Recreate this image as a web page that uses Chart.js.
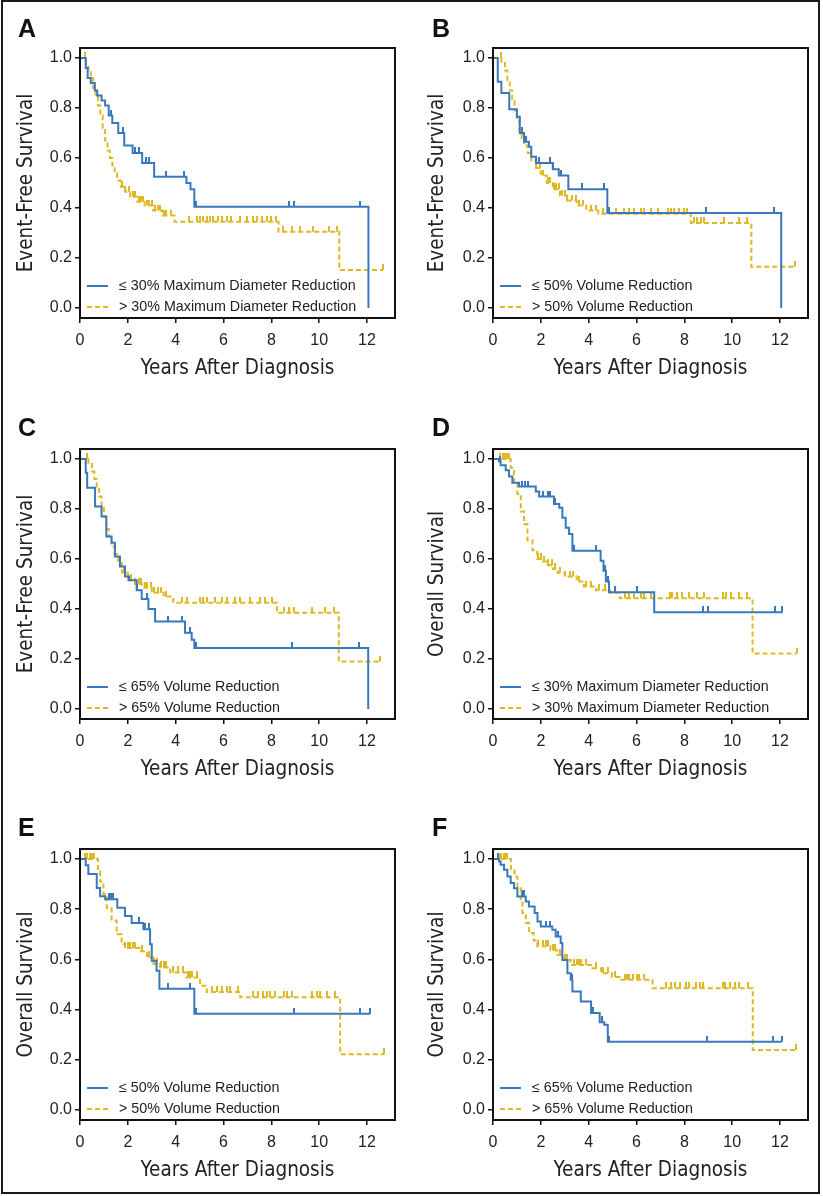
<!DOCTYPE html>
<html lang="en">
<head>
<meta charset="utf-8">
<title>survival by tumor response</title>
<style>
  body { margin: 0; background: #fff; }
  #fig { position: relative; width: 823px; height: 1196px; }
  #frame { position: absolute; left: 1px; top: 0px; width: 815px; height: 1190px; border: 2px solid #1a1a1a; }
  canvas { position: absolute; }
</style>
</head>
<body>
<div id="fig">
  <div id="frame"></div>
  <canvas id="pA" width="411" height="400" style="left:0px;top:0px"></canvas>
  <canvas id="pB" width="411" height="400" style="left:411px;top:0px"></canvas>
  <canvas id="pC" width="411" height="400" style="left:0px;top:400px"></canvas>
  <canvas id="pD" width="411" height="400" style="left:411px;top:400px"></canvas>
  <canvas id="pE" width="411" height="396" style="left:0px;top:800px"></canvas>
  <canvas id="pF" width="411" height="396" style="left:411px;top:800px"></canvas>
</div>

<script src="https://cdn.jsdelivr.net/npm/chart.js"></script>
<script>
  // ---- axes / labels ----
  const yearTicks = [0, 2, 4, 6, 8, 10, 12];
  const survTicks = [0, 0.2, 0.4, 0.6, 0.8, 1.0];
  const letters = ['A', 'B', 'C', 'D', 'E', 'F'];
  const yTitles = ['Event-Free Survival', 'Event-Free Survival', 'Event-Free Survival',
                   'Overall Survival', 'Overall Survival', 'Overall Survival'];
  const lowLabels = ['≤ 30% Maximum Diameter Reduction', '≤ 50% Volume Reduction', '≤ 65% Volume Reduction',
                     '≤ 30% Maximum Diameter Reduction', '≤ 50% Volume Reduction', '≤ 65% Volume Reduction'];
  const highLabels = ['> 30% Maximum Diameter Reduction', '> 50% Volume Reduction', '> 65% Volume Reduction',
                      '> 30% Maximum Diameter Reduction', '> 50% Volume Reduction', '> 65% Volume Reduction'];

  // ---- A: EFS by max diameter ----
  const aLowT = [0, 0.24, 0.32, 0.45, 0.62, 0.72, 0.9, 1.05, 1.2, 1.35, 1.6, 1.85, 2.2, 2.6, 3.1, 4.45, 4.62, 4.78, 12.06];
  const aLowS = [1.0, 0.96, 0.92, 0.90, 0.87, 0.85, 0.83, 0.81, 0.77, 0.74, 0.70, 0.65, 0.62, 0.58, 0.525, 0.50, 0.475, 0.405, 0];
  const aLowCens = [1.3, 1.8, 2.3, 2.45, 2.75, 2.9, 3.6, 4.35, 4.87, 8.75, 8.93, 11.72];
  const aHighT = [0, 0.25, 0.35, 0.45, 0.55, 0.65, 0.75, 0.85, 0.95, 1.05, 1.15, 1.25, 1.35, 1.45, 1.55, 1.7, 1.9, 2.1, 2.4, 2.7, 3.05, 3.45, 3.95, 8.3, 10.84, 12.67];
  const aHighS = [1.0, 0.97, 0.95, 0.92, 0.88, 0.85, 0.81, 0.77, 0.72, 0.67, 0.63, 0.60, 0.57, 0.54, 0.51, 0.485, 0.465, 0.445, 0.425, 0.41, 0.39, 0.37, 0.345, 0.305, 0.152, 0.152];
  const aHighCens = [0.2, 1.75, 1.9, 2.05, 2.2, 2.3, 2.45, 2.55, 2.65, 2.8, 2.9, 3.0, 3.15, 3.25, 3.35, 3.5, 3.6, 3.8, 4.56, 4.9, 5.02, 5.15, 5.3, 5.45, 5.58, 5.75, 5.95, 6.14, 6.3, 6.69, 7.0, 7.25, 7.4, 7.6, 7.81, 8.0, 8.2, 8.48, 8.86, 9.2, 9.73, 10.39, 10.74, 12.67];

  // ---- B: EFS by volume 50% ----
  const bLowT = [0, 0.2, 0.35, 0.68, 1.0, 1.12, 1.3, 1.5, 1.6, 1.8, 2.5, 2.75, 3.15, 4.78, 12.05];
  const bLowS = [1.0, 0.905, 0.86, 0.795, 0.765, 0.70, 0.665, 0.645, 0.605, 0.58, 0.555, 0.53, 0.475, 0.38, 0];
  const bLowCens = [1.2, 1.37, 1.93, 2.4, 2.5, 2.83, 3.71, 4.64, 4.85, 8.9, 11.73];
  const bHighT = [0, 0.35, 0.5, 0.6, 0.7, 0.8, 0.9, 1.0, 1.1, 1.2, 1.3, 1.45, 1.6, 1.8, 2.0, 2.25, 2.5, 2.8, 3.1, 3.5, 3.9, 4.4, 8.27, 10.8, 12.64];
  const bHighS = [1.0, 0.98, 0.95, 0.91, 0.87, 0.83, 0.79, 0.75, 0.71, 0.68, 0.65, 0.62, 0.59, 0.56, 0.53, 0.50, 0.475, 0.45, 0.43, 0.41, 0.39, 0.377, 0.34, 0.165, 0.165];
  const bHighCens = [0.32, 1.8, 1.95, 2.1, 2.3, 2.4, 2.55, 2.65, 2.75, 2.9, 3.0, 3.1, 3.3, 3.45, 3.6, 3.75, 4.1, 4.3, 4.58, 4.85, 5.13, 5.48, 5.69, 5.9, 6.18, 6.32, 6.6, 6.88, 7.3, 7.44, 7.57, 7.78, 7.99, 8.13, 8.41, 8.52, 8.69, 8.83, 9.67, 10.29, 10.64, 12.64];

  // ---- C: EFS by volume 65% ----
  const cLowT = [0, 0.24, 0.3, 0.63, 0.9, 1.1, 1.32, 1.46, 1.67, 1.88, 2.05, 2.37, 2.58, 2.86, 3.14, 4.39, 4.67, 4.78, 12.05];
  const cLowS = [1.0, 0.945, 0.885, 0.81, 0.77, 0.69, 0.665, 0.61, 0.57, 0.53, 0.515, 0.475, 0.44, 0.40, 0.35, 0.305, 0.277, 0.244, 0];
  const cLowCens = [2.4, 2.8, 3.67, 4.25, 4.6, 4.83, 8.85, 11.67];
  const cHighT = [0, 0.35, 0.5, 0.6, 0.7, 0.8, 0.9, 1.0, 1.1, 1.2, 1.32, 1.45, 1.6, 1.75, 2.0, 2.3, 2.6, 3.0, 3.5, 3.9, 8.23, 10.82, 12.55];
  const cHighS = [1.0, 0.98, 0.95, 0.92, 0.89, 0.85, 0.81, 0.77, 0.72, 0.69, 0.65, 0.62, 0.585, 0.545, 0.515, 0.50, 0.485, 0.465, 0.45, 0.425, 0.385, 0.19, 0.19];
  const cHighCens = [0.3, 1.85, 2.0, 2.15, 2.3, 2.45, 2.55, 2.7, 2.8, 2.95, 3.1, 3.25, 3.4, 3.6, 4.25, 4.46, 5.02, 5.16, 5.3, 5.65, 5.93, 6.14, 6.49, 6.69, 7.11, 7.53, 7.74, 8.02, 8.51, 8.72, 8.93, 9.69, 10.25, 10.6, 12.55];

  // ---- D: OS by max diameter ----
  const dLowT = [0, 0.25, 0.32, 0.53, 0.67, 0.81, 1.09, 1.79, 1.93, 2.55, 2.77, 2.9, 3.04, 3.18, 3.32, 4.5, 4.62, 4.72, 4.85, 6.74, 12.1];
  const dLowS = [1.0, 0.99, 0.975, 0.955, 0.93, 0.905, 0.89, 0.87, 0.85, 0.82, 0.805, 0.765, 0.725, 0.70, 0.633, 0.593, 0.553, 0.51, 0.467, 0.387, 0.387];
  const dLowCens = [0.3, 1.2, 1.35, 1.45, 2.1, 2.3, 2.4, 2.6, 3.4, 4.3, 4.7, 4.8, 5.1, 6.0, 8.79, 8.97, 11.8, 12.1];
  const dHighT = [0, 0.74, 0.88, 1.02, 1.16, 1.3, 1.44, 1.65, 1.85, 2.1, 2.3, 2.5, 2.7, 3.0, 3.5, 3.8, 4.3, 4.9, 5.3, 10.85, 12.7];
  const dHighS = [1.0, 0.965, 0.905, 0.86, 0.79, 0.74, 0.675, 0.635, 0.60, 0.59, 0.575, 0.56, 0.545, 0.53, 0.51, 0.49, 0.475, 0.465, 0.443, 0.222, 0.222];
  const dHighCens = [0.3, 0.4, 0.5, 0.6, 0.68, 1.9, 2.0, 2.15, 2.3, 2.45, 2.6, 2.8, 3.0, 3.2, 3.35, 3.6, 3.9, 4.1, 4.45, 4.7, 5.1, 5.5, 5.7, 5.9, 6.2, 6.3, 6.6, 7.4, 7.5, 7.7, 7.9, 8.2, 8.55, 8.83, 9.6, 9.75, 9.95, 10.3, 10.6, 12.7];

  // ---- E: OS by volume 50% ----
  const eLowT = [0, 0.24, 0.35, 0.7, 0.84, 1.05, 1.56, 1.88, 2.16, 2.65, 2.93, 3.0, 3.2, 3.32, 4.78, 12.12];
  const eLowS = [1.0, 0.975, 0.94, 0.885, 0.852, 0.84, 0.806, 0.773, 0.745, 0.72, 0.66, 0.595, 0.555, 0.483, 0.383, 0.383];
  const eLowCens = [1.2, 1.3, 1.4, 2.45, 2.7, 2.9, 3.7, 4.6, 4.85, 8.95, 11.7, 12.12];
  const eHighT = [0, 0.75, 0.84, 0.98, 1.12, 1.32, 1.53, 1.74, 1.88, 2.5, 2.8, 3.07, 3.35, 3.77, 4.46, 5.02, 5.3, 6.7, 10.88, 12.72];
  const eHighS = [1.0, 0.95, 0.91, 0.86, 0.805, 0.755, 0.70, 0.66, 0.645, 0.633, 0.608, 0.582, 0.568, 0.548, 0.528, 0.495, 0.47, 0.449, 0.222, 0.222];
  const eHighCens = [0.2, 0.3, 0.4, 0.5, 0.6, 1.9, 2.0, 2.1, 2.2, 2.3, 2.6, 2.9, 3.1, 3.2, 3.4, 3.5, 3.6, 3.9, 4.1, 4.3, 4.5, 4.6, 4.7, 4.9, 5.51, 5.72, 5.93, 6.14, 6.28, 6.62, 7.25, 7.46, 7.67, 7.81, 7.95, 8.16, 8.51, 8.65, 8.86, 9.69, 9.9, 10.04, 10.32, 10.67, 12.72];

  // ---- F: OS by volume 65% ----
  const fLowT = [0, 0.25, 0.32, 0.46, 0.6, 0.74, 0.88, 1.02, 1.37, 1.5, 1.74, 1.86, 2.0, 2.48, 2.62, 2.83, 2.9, 3.11, 3.25, 3.32, 3.67, 4.1, 4.46, 4.65, 4.8, 12.07];
  const fLowS = [1.0, 0.99, 0.977, 0.957, 0.93, 0.905, 0.884, 0.851, 0.831, 0.811, 0.785, 0.751, 0.731, 0.718, 0.691, 0.665, 0.598, 0.545, 0.519, 0.472, 0.432, 0.386, 0.35, 0.34, 0.272, 0.272];
  const fLowCens = [0.2, 1.2, 1.3, 2.2, 2.4, 2.7, 3.3, 4.2, 4.55, 4.85, 8.95, 11.7, 12.07];
  const fHighT = [0, 0.75, 0.9, 1.02, 1.16, 1.23, 1.37, 1.51, 1.7, 1.85, 2.4, 2.69, 2.98, 3.25, 4.16, 4.52, 4.97, 5.3, 6.67, 10.86, 12.67];
  const fHighS = [1.0, 0.96, 0.93, 0.89, 0.84, 0.785, 0.745, 0.705, 0.675, 0.652, 0.636, 0.618, 0.598, 0.578, 0.565, 0.545, 0.53, 0.519, 0.485, 0.239, 0.239];
  const fHighCens = [0.25, 0.35, 0.45, 0.55, 0.6, 1.9, 2.1, 2.2, 2.3, 2.5, 2.6, 2.8, 3.0, 3.1, 3.4, 3.5, 3.6, 3.7, 3.9, 4.3, 4.6, 4.8, 5.1, 5.5, 5.6, 5.7, 5.85, 6.0, 6.1, 6.3, 7.25, 7.45, 7.6, 7.8, 8.05, 8.2, 8.5, 8.65, 8.8, 9.6, 9.7, 9.9, 10.1, 10.3, 10.65, 12.67];

  const BLUE = '#3a78bd';
  const GOLD = '#e0b824';
  const SANS = '"Liberation Sans", Arial, Helvetica, sans-serif';
  const NARROW = '"DejaVu Sans Condensed", "Liberation Sans Narrow", sans-serif';

  Chart.defaults.font.family = SANS;
  Chart.defaults.color = '#222';

  // survival level at time t (for placing censor ticks on the curve)
  function levelAt(ts, ss, t) {
    let v = ss[0];
    for (let i = 0; i < ts.length; i++) { if (ts[i] <= t) v = ss[i]; }
    return v;
  }

  // small upward tick used as point style for censored cases
  function censorMark(color) {
    const c = document.createElement('canvas');
    c.width = 2; c.height = 12;
    const g = c.getContext('2d');
    g.fillStyle = color;
    g.fillRect(0, 0, 2, 6);
    return c;
  }
  const blueMark = censorMark(BLUE);
  const goldMark = censorMark(GOLD);

  // plot frame, in-plot legend and panel letter
  const decor = {
    id: 'decor',
    afterDatasetsDraw(chart, args, opts) {
      const ctx = chart.ctx, a = chart.chartArea;
      ctx.save();
      ctx.strokeStyle = '#111';
      ctx.lineWidth = 2;
      ctx.strokeRect(a.left, a.top, a.right - a.left, a.bottom - a.top);
      const ds = chart.data.datasets;
      for (let i = 0; i < 2; i++) {
        const d = ds[i];
        const y = a.bottom - 32 + i * 21;
        ctx.beginPath();
        ctx.setLineDash(d.borderDash || []);
        ctx.strokeStyle = d.borderColor;
        ctx.lineWidth = 2;
        ctx.moveTo(a.left + 7, y);
        ctx.lineTo(a.left + 28, y);
        ctx.stroke();
        ctx.setLineDash([]);
        ctx.fillStyle = '#222';
        ctx.font = '14.3px ' + SANS;
        ctx.textBaseline = 'middle';
        ctx.fillText(d.label, a.left + 39, y);
      }
      ctx.fillStyle = '#111';
      ctx.font = 'bold 25px ' + SANS;
      ctx.textBaseline = 'alphabetic';
      ctx.fillText(opts.letter, opts.lx, opts.ly);
      ctx.restore();
    }
  };

  const panels = [
    { id: 'pA', low: [aLowT, aLowS, aLowCens], high: [aHighT, aHighS, aHighCens], col: 0, row: 0 },
    { id: 'pB', low: [bLowT, bLowS, bLowCens], high: [bHighT, bHighS, bHighCens], col: 1, row: 0 },
    { id: 'pC', low: [cLowT, cLowS, cLowCens], high: [cHighT, cHighS, cHighCens], col: 0, row: 1 },
    { id: 'pD', low: [dLowT, dLowS, dLowCens], high: [dHighT, dHighS, dHighCens], col: 1, row: 1 },
    { id: 'pE', low: [eLowT, eLowS, eLowCens], high: [eHighT, eHighS, eHighCens], col: 0, row: 2 },
    { id: 'pF', low: [fLowT, fLowS, fLowCens], high: [fHighT, fHighS, fHighCens], col: 1, row: 2 }
  ];
  const yAxisW = [80, 82];
  const padRight = [16, 14];
  const padTop = [48, 49, 49];
  const padBottom = [10, 9, 4];
  const letterX = [18, 21];
  const letterY = [37, 36, 36];

  panels.forEach((p, k) => {
    const steps = (ts, ss) => ts.map((t, i) => ({ x: t, y: ss[i] }));
    const cens = (ts, ss, cs) => cs.map(t => ({ x: t, y: levelAt(ts, ss, t) }));
    new Chart(document.getElementById(p.id), {
      type: 'line',
      data: {
        datasets: [
          { label: lowLabels[k], data: steps(p.low[0], p.low[1]), stepped: true,
            borderColor: BLUE, borderWidth: 2, pointRadius: 0, fill: false },
          { label: highLabels[k], data: steps(p.high[0], p.high[1]), stepped: true,
            borderColor: GOLD, borderWidth: 2, borderDash: [5, 3], pointRadius: 0, fill: false },
          { label: 'censored', data: cens(p.low[0], p.low[1], p.low[2]), showLine: false,
            pointStyle: blueMark, pointRadius: 3 },
          { label: 'censored', data: cens(p.high[0], p.high[1], p.high[2]), showLine: false,
            pointStyle: goldMark, pointRadius: 3 }
        ]
      },
      options: {
        responsive: false,
        animation: false,
        events: [],
        layout: { padding: { top: padTop[p.row], right: padRight[p.col], bottom: padBottom[p.row], left: 0 } },
        plugins: {
          legend: { display: false },
          tooltip: { enabled: false },
          decor: { letter: letters[k], lx: letterX[p.col], ly: letterY[p.row] }
        },
        scales: {
          x: {
            type: 'linear', min: 0, max: 13.17,
            afterBuildTicks: (axis) => { axis.ticks = yearTicks.map(v => ({ value: v })); },
            afterFit: (s) => { s.height = 72; },
            grid: { drawOnChartArea: false, drawTicks: true, tickLength: 5, color: '#111', lineWidth: 1.5 },
            border: { display: false },
            ticks: { font: { size: 16 }, padding: 8, maxRotation: 0, callback: (v) => String(v) },
            title: { display: true, text: 'Years After Diagnosis', font: { family: NARROW, size: 20.5 },
                     padding: { top: 0, bottom: 9 } }
          },
          y: {
            type: 'linear', min: -0.04, max: 1.04,
            afterBuildTicks: (axis) => { axis.ticks = survTicks.map(v => ({ value: v })); },
            afterFit: (s) => { s.width = yAxisW[p.col]; },
            grid: { drawOnChartArea: false, drawTicks: true, tickLength: 5, color: '#111', lineWidth: 1.5 },
            border: { display: false },
            ticks: { font: { size: 16 }, padding: 3, callback: (v) => Number(v).toFixed(1) },
            title: { display: true, text: yTitles[k], font: { family: NARROW, size: 20.5 },
                     padding: { top: 14, bottom: 0 } }
          }
        }
      },
      plugins: [decor]
    });
  });
</script>
</body>
</html>
